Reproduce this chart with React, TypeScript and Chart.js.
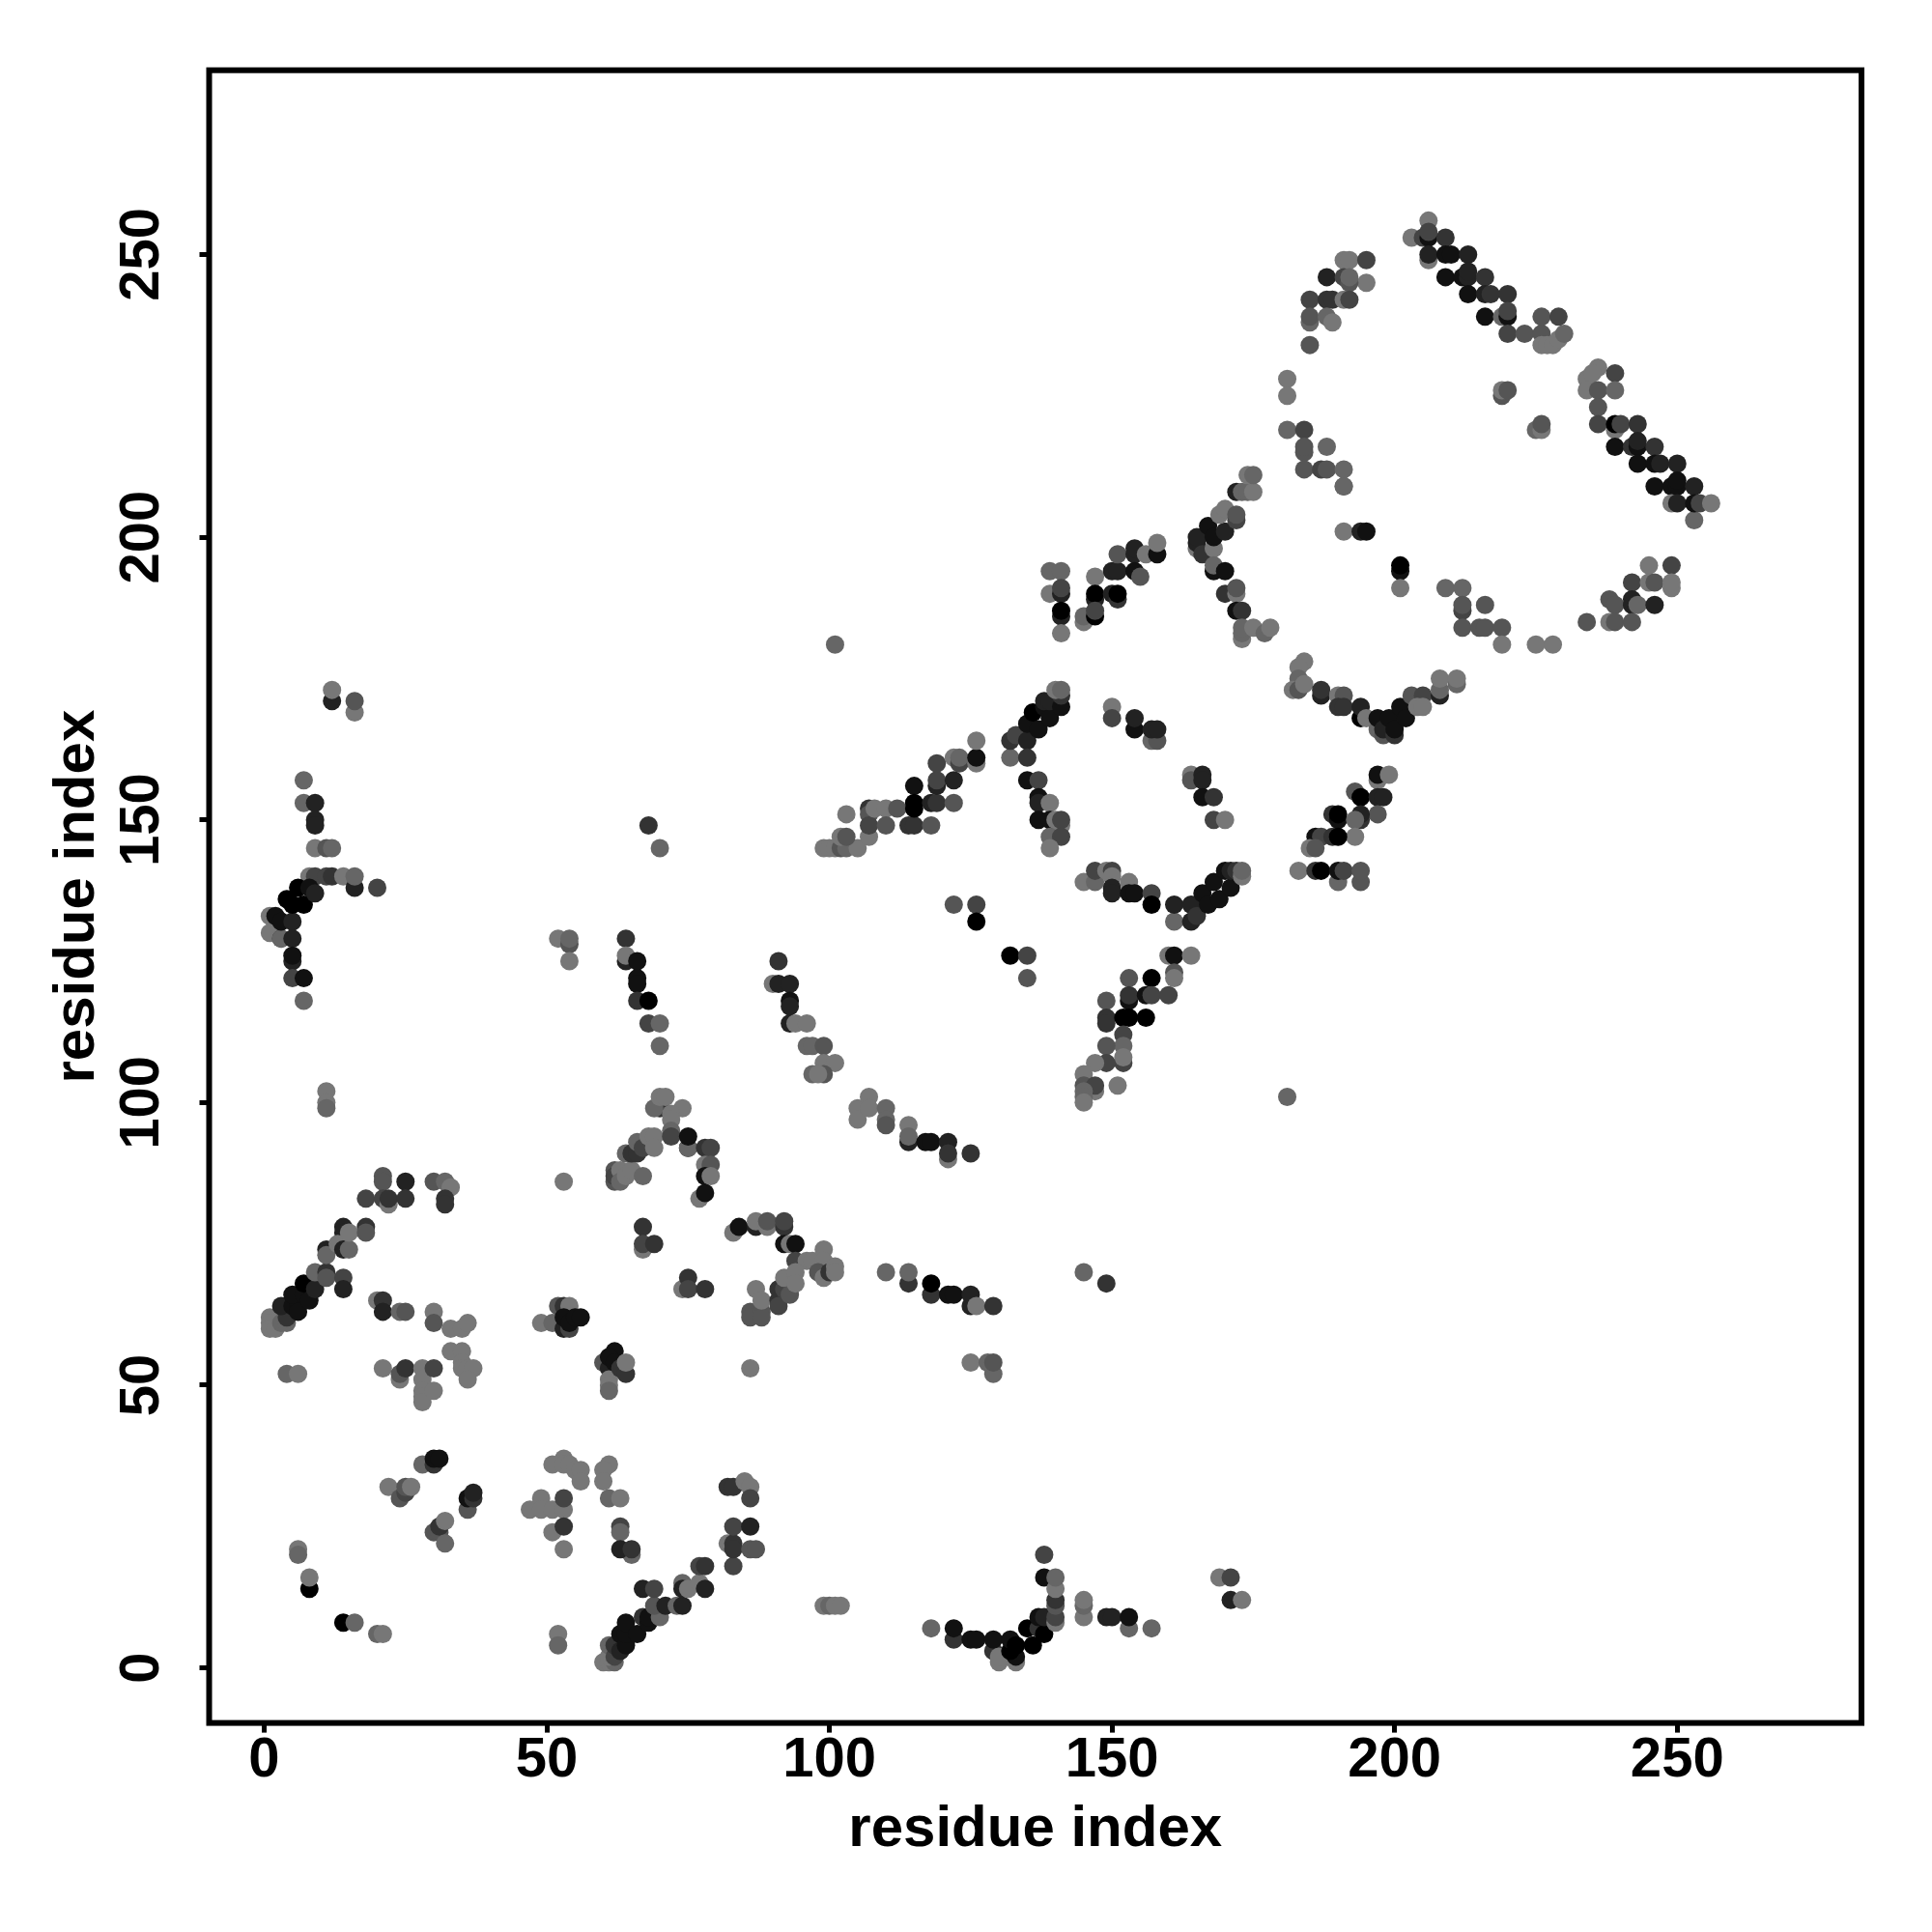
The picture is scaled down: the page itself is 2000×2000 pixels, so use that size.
import React, { useEffect, useRef } from "react";
import { Chart, registerables } from "chart.js";

Chart.register(...registerables);

// Each contact: [residue x, residue y, darkness step (0 = black … 7 = lightest grey)]
type Contact = [number, number, number];

const tickValues = [0, 50, 100, 150, 200, 250];
const axisLabel = "residue index";

const lowerLeftBand: Contact[] = [
  [1,62,7],[1,61,7],[1,60,7],[2,60,7],[3,61,6],[4,61,6],[4,62,3],[3,64,2],[5,64,1],[6,64,1],[6,63,1],[5,66,1],[7,66,1],[7,68,0],[8,65,1],[9,67,2],[9,70,6],[11,70,3],[11,69,5],[11,74,2],[11,73,6],[14,69,4],[14,67,2],
  [14,78,2],[14,77,2],[13,75,7],[14,74,2],[15,74,6],[15,77,7],[18,78,3],[18,77,5],[18,83,4],[21,87,5],[21,86,5],[21,83,4],[22,82,7],[22,83,3],[25,86,2],[25,83,3],[30,86,5],[32,86,6],[33,85,7],[32,83,3],[32,82,3],
  [20,65,7],[21,65,3],[21,63,2],[24,63,6],[25,63,5],[30,63,7],[30,61,5],[33,60,7],[35,60,7],[36,61,7],
  [33,56,7],[35,56,7],[35,54,7],[35,53,7],[36,53,7],[37,53,7],[36,51,7],[21,53,7],[24,51,7],[24,52,5],[25,53,3],[28,53,7],[28,51,7],[28,49,7],[28,48,7],[28,47,7],[30,49,7],[30,53,4],[4,52,6],[6,52,7],
];

const lowerLeftSparse: Contact[] = [
  [6,21,7],[6,20,6],[8,14,0],[8,16,7],[14,8,0],[16,8,6],[20,6,6],[21,6,7],
  [28,36,6],[30,36,3],[30,37,1],[31,37,1],[22,32,7],[24,30,5],[25,31,4],[25,32,5],[26,32,7],
  [36,28,5],[36,30,1],[37,30,3],[37,31,2],[30,24,5],[31,24,5],[31,25,3],[32,26,7],[32,22,6],
  [47,28,7],[49,30,7],[49,28,7],[51,28,7],[53,28,7],[53,30,4],[51,24,7],[53,25,3],[53,21,7],
  [51,36,7],[53,37,7],[53,36,7],[54,36,7],[55,35,7],[56,35,7],[56,33,7],[61,36,7],[60,35,7],[60,33,7],[61,30,6],[63,30,7],
  [63,25,4],[63,24,6],[65,20,6],[63,21,2],[65,21,3],[52,6,7],[52,4,6],
];

const lowerDiagonal: Contact[] = [
  [60,1,7],[61,1,7],[62,1,6],[61,2,7],[61,4,6],[62,2,4],[62,4,3],[63,3,2],[63,6,1],[64,4,1],[64,6,1],[64,8,1],[66,6,1],[67,9,3],[68,8,1],[68,9,1],[70,9,6],[69,11,5],[67,14,2],[69,14,4],[71,11,2],[73,11,6],[74,11,2],[74,15,6],[74,14,2],[75,14,7],[77,15,7],[78,14,2],[77,18,4],[78,18,3],
  [82,22,7],[83,18,4],[83,22,3],[83,21,3],[83,25,4],[86,25,2],[86,21,5],[87,21,5],[82,32,3],[83,32,3],[85,33,7],[86,32,7],[86,30,4],
];

const lowerMiddle: Contact[] = [
  [49,61,7],[51,61,6],[52,64,5],[53,64,3],[54,64,7],[53,60,2],[54,60,4],[53,62,1],[54,61,1],[55,62,1],[56,62,1],
  [60,54,5],[61,53,2],[62,56,1],[61,55,1],[62,54,1],[61,51,7],[61,50,7],[61,49,6],[63,53,3],[64,52,3],[64,54,7],
  [67,78,3],[67,74,7],[67,75,4],[69,75,3],[74,67,7],[75,69,3],[75,67,4],[78,67,3],[53,86,7],[86,53,7],[83,77,7],[84,78,1],
  [87,78,2],[87,79,7],[89,78,7],[89,79,5],[92,78,3],[92,79,4],[92,75,1],[93,75,7],[94,75,1],[94,72,4],[96,72,7],[97,72,7],[99,74,7],[99,72,7],[98,70,5],[99,69,7],[100,70,3],[101,71,7],[101,70,7],
  [86,63,5],[86,62,5],[88,63,5],[88,62,5],[87,67,7],[88,65,7],[91,67,3],[91,65,3],[91,64,4],[92,67,4],[92,69,7],[93,66,5],[94,70,7],[94,68,7],
  [110,70,6],[114,68,3],[114,70,6],[118,66,3],[118,68,0],[121,66,1],[122,66,1],[125,64,2],[125,66,2],[126,64,7],[129,64,3],
  [125,54,7],[129,52,6],[128,54,6],[129,54,5],[145,70,6],[149,68,3],
];

const lowerRight: Contact[] = [
  [99,11,7],[100,11,6],[101,11,7],[102,11,7],[118,7,6],[122,5,3],[122,7,1],[125,5,1],[126,5,1],[129,3,3],[129,5,1],[130,1,7],[130,2,7],[133,1,7],[133,2,1],[132,3,0],[132,5,1],[133,4,0],[135,7,0],[136,4,0],[137,7,3],[137,9,1],[138,6,0],[138,9,2],[138,20,4],[138,16,1],
  [140,8,7],[140,9,4],[140,11,5],[140,12,3],[140,14,7],[140,16,6],[145,9,7],[145,11,6],[145,12,7],[149,9,2],[150,9,2],[153,7,6],[153,9,1],[157,7,6],[169,16,7],[171,16,4],[171,12,2],[173,12,7],
];

const upperLeftArc: Contact[] = [
  [12,171,2],[12,173,7],[16,169,7],[16,171,5],[7,157,6],[7,153,6],[9,153,2],[9,150,2],[9,149,2],[9,145,7],[11,145,5],[12,145,6],
  [8,140,7],[9,140,4],[11,140,4],[12,140,3],[14,140,7],[16,138,2],[16,140,6],[20,138,4],[1,133,7],[1,130,7],[3,129,3],[3,129,6],[2,133,1],[3,132,1],[5,132,2],[4,136,0],[5,135,0],[7,135,0],[6,138,0],[8,138,1],[9,137,2],
  [5,129,2],[5,125,2],[5,126,1],[5,122,4],[7,122,1],[7,118,6],[11,102,7],[11,100,7],[11,99,6],[101,181,6],[181,101,6],
  [68,149,3],[70,145,6],[52,129,7],[54,128,5],[54,129,6],[54,125,7],
  [64,129,3],[64,125,2],[64,126,7],[66,125,1],[66,122,1],[66,121,1],[66,118,3],[68,118,0],[68,114,4],[70,114,6],[70,110,6],
];

const midArcCluster: Contact[] = [
  [62,88,5],[62,86,5],[62,87,4],[63,88,7],[63,86,6],[64,87,7],[65,88,7],[67,87,6],[64,91,6],[65,91,3],[66,91,3],[66,93,6],[67,92,4],[68,94,7],[69,94,7],[69,92,7],
  [70,99,3],[69,99,6],[70,101,7],[71,101,7],[74,99,7],[72,98,7],[72,97,7],[72,95,6],[72,94,4],[75,92,2],[75,92,6],[75,94,1],[78,92,3],[79,92,4],[78,89,7],[79,89,5],[78,87,1],[79,87,7],[77,83,7],[78,84,1],
];

const centerBands: Contact[] = [
  [99,145,7],[100,145,7],[101,145,7],[102,145,5],[103,145,6],[105,145,7],[102,147,7],[103,147,5],[107,147,7],[103,151,7],[107,152,3],[107,151,5],[107,149,4],[108,152,7],[110,152,7],[110,149,5],[112,152,5],[114,149,3],[115,149,3],[115,156,1],[115,153,0],[115,152,0],[118,149,5],[118,153,2],[119,153,3],[119,156,2],[119,157,4],[122,153,5],[119,160,4],[122,157,2],
  [122,161,7],[123,160,4],[123,161,6],[126,160,7],[126,161,1],[126,164,7],
  [132,161,6],[132,164,3],[133,165,4],[135,164,2],[135,161,3],[135,167,1],[137,166,1],[136,169,0],[138,170,1],[138,171,2],[139,168,1],[139,171,2],[141,170,1],[141,172,3],[140,173,7],[141,173,6],
  [150,170,7],[150,168,4],[154,166,1],[154,168,2],[157,164,6],[158,164,5],[157,166,2],[158,166,2],
  [135,157,1],[137,157,4],[137,154,1],[137,153,2],[139,153,7],[137,150,1],[139,150,1],[140,150,7],[141,149,7],[141,150,4],[139,147,6],[141,147,4],[139,145,7],
  [164,158,7],[164,157,5],[166,158,2],[166,157,2],[166,154,1],[168,154,3],[168,150,4],[170,150,7],
];

const centerLoop: Contact[] = [
  [145,139,7],[147,139,6],[147,141,4],[149,141,7],[150,141,4],[150,140,7],[150,138,2],[150,137,2],[153,139,7],[153,137,1],[154,137,1],[157,137,4],[157,135,0],[161,132,6],[161,135,2],[164,132,2],[164,135,2],[165,133,3],[166,137,1],[167,135,1],[168,139,1],[169,136,1],[171,138,1],[170,141,1],[171,141,2],[172,141,3],[173,140,7],[173,141,6],
  [122,135,5],[126,135,4],[126,132,0],[132,126,0],[135,126,4],[135,122,5],
  [91,125,3],[90,121,7],[91,121,2],[93,121,2],[93,118,1],[93,117,2],[93,114,2],[94,114,7],[96,114,7],[96,110,6],[97,110,6],[99,110,5],[99,107,7],[101,107,7],[97,105,6],[99,105,5],[98,105,7],
  [105,99,7],[105,97,7],[107,101,7],[107,99,7],[110,99,6],[110,97,6],[110,96,5],[114,96,7],[114,93,2],[114,94,6],[117,93,1],[118,93,1],[121,93,2],[121,90,7],[121,91,3],[125,91,3],
];

const riseBand: Contact[] = [
  [160,126,7],[161,126,1],[164,126,7],[161,123,5],[161,122,7],[157,122,0],[153,122,5],[153,118,1],[153,119,3],[156,119,1],[157,119,4],[160,119,4],[149,118,5],[149,115,3],[149,114,3],[152,115,0],[153,115,0],[156,115,0],
  [152,112,4],[152,110,6],[149,110,5],[152,107,4],[152,108,7],[149,107,4],[147,107,7],[145,105,7],[145,103,5],[147,102,7],[147,103,4],[145,102,6],[145,101,6],[145,100,7],[151,103,7],
];

const upperMiddle: Contact[] = [
  [139,194,6],[141,194,6],[139,190,7],[141,190,2],[141,191,4],[141,186,2],[141,187,0],[141,183,7],
  [145,185,7],[145,186,6],[147,193,7],[147,189,2],[147,190,0],[147,186,0],[147,187,4],[150,190,2],[151,189,3],[151,190,0],[150,194,2],[151,194,2],[151,197,5],[154,197,2],[154,198,2],[154,194,1],[155,193,5],[156,197,7],[158,197,1],[158,199,7],
  [165,198,7],[165,199,2],[165,200,2],[166,197,3],[167,202,1],[168,198,7],[168,200,1],[170,201,2],[169,204,7],[170,205,7],[172,203,4],[172,204,5],[172,208,2],[173,208,6],[174,208,6],[175,208,7],[174,211,7],[175,211,6],[191,209,6],
  [168,194,1],[168,195,6],[170,194,1],[170,190,3],[172,190,7],[172,191,5],[172,187,1],[173,187,3],[173,182,7],[173,183,6],[173,184,6],[175,184,7],[177,183,6],[178,184,7],
  [191,201,7],[194,201,2],[195,201,1],[201,194,1],[201,195,0],[201,191,7],
];

const upperValley: Contact[] = [
  [184,178,7],[183,177,7],[183,175,6],[182,173,7],[183,173,5],[184,174,7],[187,172,2],[187,173,3],[190,172,7],[191,172,5],[190,170,3],[191,170,3],[194,168,0],[194,170,2],[195,168,7],[197,166,6],[197,168,1],[198,165,5],[198,166,2],[199,168,1],[200,165,3],[200,166,1],[201,170,1],[202,168,1],[203,172,5],[205,172,4],[204,170,7],[205,170,7],[208,172,2],[208,173,6],[208,175,7],[211,174,6],[211,175,7],
  [197,157,7],[197,158,1],[199,158,7],[193,155,5],[194,154,0],[197,154,2],[198,154,2],[197,151,5],[194,150,3],[194,151,2],[189,151,3],[190,150,1],[190,151,0],[193,150,6],
  [193,147,7],[186,147,1],[187,147,4],[189,147,3],[190,147,0],[185,145,7],[186,145,5],
  [183,141,7],[186,141,3],[187,141,0],[190,139,6],[190,141,1],[191,141,4],[194,139,5],[194,141,5],
];

const upperRightLoop: Contact[] = [
  [203,253,7],[206,256,7],[205,253,4],[206,253,1],[206,254,4],[209,253,3],[206,249,7],[206,250,2],[209,250,1],[210,250,1],[213,250,2],[209,246,1],[212,246,1],[213,246,2],[213,247,2],[216,246,3],[213,243,1],[216,243,2],[217,243,3],[220,243,3],[216,239,1],[219,239,6],[220,239,1],[220,240,4],[220,236,4],[223,236,5],[226,239,5],[226,236,5],[229,239,4],[226,234,7],[227,234,7],[228,234,7],[229,235,7],[230,236,6],
  [191,249,7],[192,249,7],[195,249,4],[195,245,7],[188,246,2],[191,246,4],[192,245,5],[192,246,6],[185,242,4],[188,242,3],[189,242,3],[191,242,7],[192,242,4],[185,238,6],[185,239,5],[188,239,6],[189,238,7],[185,234,5],
  [181,228,7],[181,225,7],[181,219,6],[184,219,4],[184,215,5],[184,216,5],[184,212,5],[187,212,4],[188,212,5],[188,216,6],[191,212,6],[191,209,6],
  [219,225,5],[219,226,7],[220,226,5],[225,219,6],[226,219,7],[226,220,5],
  [236,230,7],[234,228,7],[235,229,7],[234,226,7],[236,226,5],[239,229,4],[239,226,6],[236,223,5],[236,220,4],[239,219,7],[239,220,0],[240,220,4],[243,220,3],[239,216,1],[242,216,3],[243,216,1],[243,217,2],[246,216,3],[243,213,1],[246,213,1],[247,213,2],[250,213,2],[246,209,1],[249,209,1],[250,209,1],[250,210,1],[253,209,2],[249,206,7],[250,206,2],[253,203,6],[253,206,1],[254,206,4],[256,206,7],
];

const upperRightLower: Contact[] = [
  [245,195,7],[249,195,4],[242,192,4],[245,192,7],[246,192,5],[249,191,7],[249,192,7],[242,189,2],[238,189,5],[239,188,5],[242,188,2],[243,188,6],[246,188,2],[234,185,5],[238,185,7],[239,185,5],[242,185,5],
  [209,191,6],[212,191,6],[212,187,4],[212,188,5],[216,188,5],[212,184,5],[215,184,5],[216,184,5],[219,184,5],[219,181,7],[225,181,7],[228,181,7],
];

const contacts: Contact[] = [
  ...lowerLeftBand, ...lowerLeftSparse, ...lowerDiagonal, ...lowerMiddle, ...lowerRight,
  ...upperLeftArc, ...midArcCluster, ...centerBands, ...centerLoop, ...riseBand,
  ...upperMiddle, ...upperValley, ...upperRightLoop, ...upperRightLower,
];

const FONT = '"Liberation Sans", Arial, sans-serif';

const framePlugin = {
  id: "frame",
  afterDraw(chart: any) {
    const { ctx, chartArea: a } = chart;
    ctx.save();
    ctx.strokeStyle = "#000";
    ctx.lineWidth = 6;
    ctx.lineJoin = "miter";
    ctx.strokeRect(a.left, a.top, a.right - a.left, a.bottom - a.top);
    ctx.restore();
  },
};

export default function App() {
  const ref = useRef<HTMLCanvasElement>(null);

  useEffect(() => {
    if (!ref.current) return;
    const ticksAt = (axis: any) => {
      axis.ticks = tickValues.map((value) => ({ value }));
    };
    const axisCommon = {
      type: "linear" as const,
      min: -9.74,
      max: 282.6,
      afterBuildTicks: ticksAt,
      border: { display: false },
      grid: {
        drawOnChartArea: false,
        drawTicks: true,
        tickLength: 10,
        tickWidth: 5,
        tickColor: "#000",
      },
    };
    const chart = new Chart(ref.current, {
      type: "scatter",
      data: {
        datasets: [
          {
            data: contacts.map(([x, y]) => ({ x, y })),
            pointRadius: 9.5,
            pointBorderWidth: 0,
            pointBackgroundColor: contacts.map(([, , s]) => `rgb(${s * 17},${s * 17},${s * 17})`),
          },
        ],
      },
      options: {
        responsive: false,
        animation: false,
        devicePixelRatio: 1,
        layout: { padding: { left: 0, top: 72.7, right: 73, bottom: 0 } },
        plugins: { legend: { display: false }, tooltip: { enabled: false }, title: { display: false } },
        scales: {
          x: {
            ...axisCommon,
            afterFit: (axis: any) => {
              axis.height = 216.4;
            },
            ticks: {
              color: "#000",
              padding: -5,
              maxRotation: 0,
              minRotation: 0,
              autoSkip: false,
              font: { family: FONT, size: 58, weight: "bold" },
            },
            title: {
              display: true,
              text: axisLabel,
              color: "#000",
              padding: { top: 0, bottom: 70 },
              font: { family: FONT, size: 60, weight: "bold" },
            },
          },
          y: {
            ...axisCommon,
            afterFit: (axis: any) => {
              axis.width = 216.5;
            },
            ticks: {
              color: "#000",
              padding: 10,
              minRotation: 90,
              maxRotation: 90,
              crossAlign: "center",
              autoSkip: false,
              font: { family: FONT, size: 58, weight: "bold" },
            },
            title: {
              display: true,
              text: axisLabel,
              color: "#000",
              padding: { top: 44, bottom: 0 },
              font: { family: FONT, size: 60, weight: "bold" },
            },
          },
        },
      },
      plugins: [framePlugin],
    } as any);
    return () => chart.destroy();
  }, []);

  return (
    <canvas
      ref={ref}
      width={2000}
      height={2000}
      style={{ position: "absolute", left: 0, top: 0, width: 2000, height: 2000, background: "#fff" }}
    />
  );
}
